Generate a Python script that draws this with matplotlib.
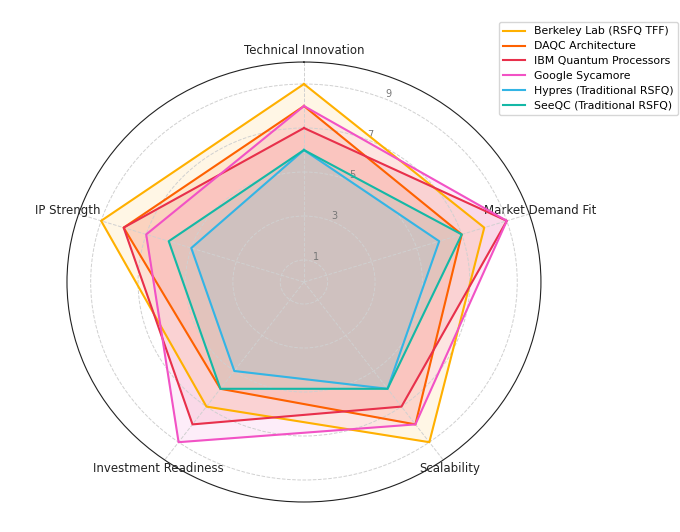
# Radar chart comparing RSFQ / quantum computing approaches
import numpy as np
import matplotlib.pyplot as plt

categories = ['Technical Innovation', 'Market Demand Fit', 'Scalability',
              'Investment Readiness', 'IP Strength']

berkeley = [9, 8, 9, 7, 9]
daqc = [8, 7, 8, 6, 8]
ibm = [7, 9, 7, 8, 8]
google = [8, 9, 8, 9, 7]
hypres = [6, 6, 6, 5, 5]
seeqc = [6, 7, 6, 6, 6]

names = ['Berkeley Lab (RSFQ TFF)', 'DAQC Architecture', 'IBM Quantum Processors',
         'Google Sycamore', 'Hypres (Traditional RSFQ)', 'SeeQC (Traditional RSFQ)']
series = [berkeley, daqc, ibm, google, hypres, seeqc]
colors = ['#FFB000', '#FE6100', '#E8304B', '#F252C5', '#33B5E5', '#14B8A6']

# angulos
n = len(categories)
angles = np.linspace(0, 2 * np.pi, n, endpoint=False).tolist()
angles += angles[:1]

fig = plt.figure(figsize=(6.8, 5.32), dpi=100)
ax = fig.add_axes([0.0985, 0.0564, 0.697, 0.827], projection='polar')
ax.set_aspect('auto')
ax.set_theta_offset(np.pi / 2)
ax.set_theta_direction(-1)

for nombre, valores, color in zip(names, series, colors):
    v = valores + valores[:1]
    ax.plot(angles, v, color=color, linewidth=1.5, label=nombre)
    ax.fill(angles, v, color=color, alpha=0.1)

ax.set_xticks(angles[:-1])
ax.set_xticklabels(categories, fontsize=8.5, color='#222222')
ax.tick_params(axis='x', pad=-2.5)
ax.set_ylim(0, 10)
ax.set_yticks([1, 3, 5, 7, 9])
ax.set_yticklabels(['1', '3', '5', '7', '9'], fontsize=7, color='#777777')
ax.set_rlabel_position(22.5)
ax.grid(color='#d0d0d0', linestyle='--', linewidth=0.7)
ax.spines['polar'].set_color('#222222')

ax.legend(loc='upper right', bbox_to_anchor=(1.3, 1.103), fontsize=7.8,
          labelspacing=0.45)

plt.savefig('out.png', dpi=100)
